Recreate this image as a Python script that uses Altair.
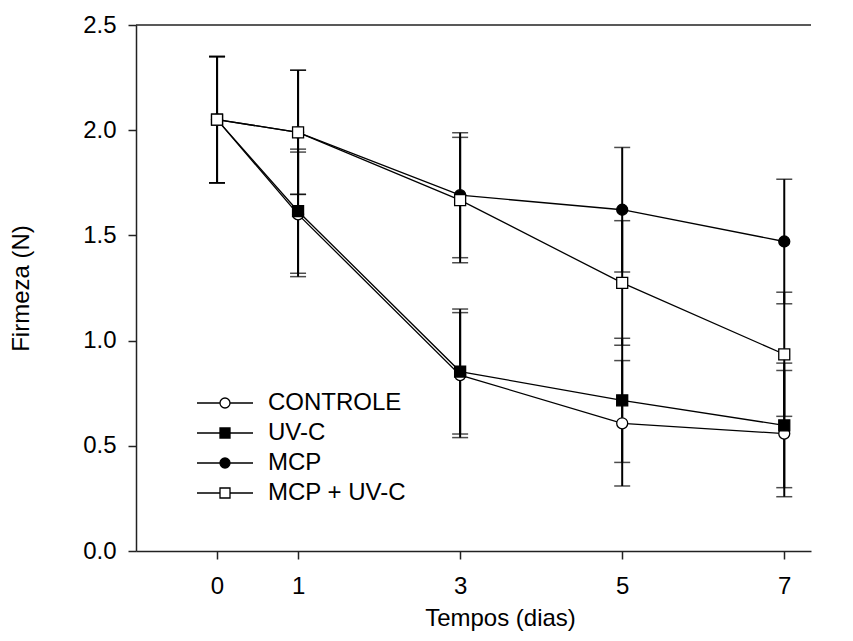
import altair as alt
import pandas as pd

days = [0, 1, 3, 5, 7]
series_names = ["CONTROLE", "UV-C", "MCP", "MCP + UV-C"]
controle = [2.05, 1.60, 0.836, 0.607, 0.558]
controle_err = [0.30, 0.296, 0.297, 0.298, 0.30]
uvc = [2.05, 1.615, 0.853, 0.716, 0.597]
uvc_err = [0.30, 0.295, 0.297, 0.295, 0.296]
mcp = [2.05, 1.99, 1.691, 1.622, 1.471]
mcp_err = [0.30, 0.295, 0.297, 0.296, 0.296]
mcp_uvc = [2.05, 1.99, 1.668, 1.274, 0.935]
mcp_uvc_err = [0.30, 0.295, 0.298, 0.296, 0.295]

shapes = ["circle", "square", "circle", "square"]
fills = ["white", "black", "black", "white"]
strokes = ["black", "black", "black", "black"]
leg_circle = "M-5.6,0H-1M1,0H5.6M-1,0A1,1,0,1,0,1,0A1,1,0,1,0,-1,0Z"
leg_square = "M-5.6,0H-1M1,0H5.6M-1,-1H1V1H-1Z"
leg_shapes = [leg_circle, leg_square, leg_circle, leg_square]

rows = []
for name, vals, errs in zip(series_names, [controle, uvc, mcp, mcp_uvc],
                            [controle_err, uvc_err, mcp_err, mcp_uvc_err]):
    for d, v, e in zip(days, vals, errs):
        rows.append({"series": name, "day": d, "value": v,
                     "lo": v - e, "hi": v + e})
df = pd.DataFrame(rows)

FONT = "Liberation Sans"
FS = 24
xscale = alt.Scale(domain=[-1, 7.33], nice=False, zero=False)
yscale = alt.Scale(domain=[0, 2.5], nice=False)

x_axis = alt.Axis(values=days, format="d", title="Tempos (dias)", grid=False, tickSize=8,
                  tickWidth=1.5, tickColor="#222", domainColor="#222", domainWidth=1.5,
                  labelFontSize=FS, titleFontSize=FS, labelFont=FONT, titleFont=FONT,
                  labelColor="black", titleColor="black", titleFontWeight="normal",
                  labelPadding=15, titlePadding=8, titleX=364, titleAlign="center",
                  titleAnchor="start")
y_axis = alt.Axis(values=[0, 0.5, 1.0, 1.5, 2.0, 2.5], format=".1f", title="Firmeza (N)",
                  grid=False, tickSize=8, tickWidth=1.5, tickColor="#222",
                  domainColor="#222", domainWidth=1.5,
                  labelFontSize=FS, titleFontSize=FS, labelFont=FONT, titleFont=FONT,
                  labelColor="black", titleColor="black", titleFontWeight="normal",
                  labelPadding=12, titlePadding=49)

base = alt.Chart(df)

err_rules = base.mark_rule(color="black", strokeWidth=2).encode(
    x=alt.X("day:Q", scale=xscale, axis=x_axis),
    y=alt.Y("lo:Q", scale=yscale, axis=y_axis),
    y2="hi:Q",
)
cap_lo = base.mark_tick(orient="horizontal", color="black", size=16, thickness=1.5).encode(
    x="day:Q", y="lo:Q")
cap_hi = base.mark_tick(orient="horizontal", color="black", size=16, thickness=1.5).encode(
    x="day:Q", y="hi:Q")

lines = base.mark_line(color="black", strokeWidth=1.3).encode(
    x="day:Q", y="value:Q", detail="series:N")

points = base.mark_point(color="black", strokeWidth=1.3, size=121, opacity=1).encode(
    x="day:Q", y="value:Q",
    shape=alt.Shape("series:N", scale=alt.Scale(domain=series_names, range=shapes), legend=None),
    fill=alt.Fill("series:N", scale=alt.Scale(domain=series_names, range=fills), legend=None),
)

legend = alt.Legend(title=None, orient="none", legendX=77, legendY=366,
                    labelFont=FONT, labelFontSize=FS, labelColor="black",
                    symbolSize=100, symbolStrokeWidth=1.3, symbolStrokeColor="black",
                    labelOffset=31, rowPadding=6, padding=0)

legend_layer = base.transform_filter(alt.datum.day < -50).mark_point(
    strokeWidth=1.3, opacity=1).encode(
    x="day:Q", y="value:Q",
    shape=alt.Shape("series:N", scale=alt.Scale(domain=series_names, range=leg_shapes), legend=legend),
    fill=alt.Fill("series:N", scale=alt.Scale(domain=series_names, range=fills), legend=legend),
    stroke=alt.Stroke("series:N", scale=alt.Scale(domain=series_names, range=strokes), legend=legend),
)

top_rule = alt.Chart(pd.DataFrame({"top": [2.5]})).mark_rule(color="#222", strokeWidth=1.5).encode(
    y=alt.Y("top:Q", scale=yscale))

chart = alt.layer(err_rules, cap_lo, cap_hi, lines, points, legend_layer, top_rule).resolve_scale(
    shape="independent", fill="independent", stroke="independent"
).properties(
    width=675, height=526,
    autosize=alt.AutoSizeParams(type="none"),
    padding={"left": 128, "top": 17, "right": 30, "bottom": 80},
).configure_view(stroke=None)

chart.save("out.html", embed_options={"renderer": "svg", "actions": False})
